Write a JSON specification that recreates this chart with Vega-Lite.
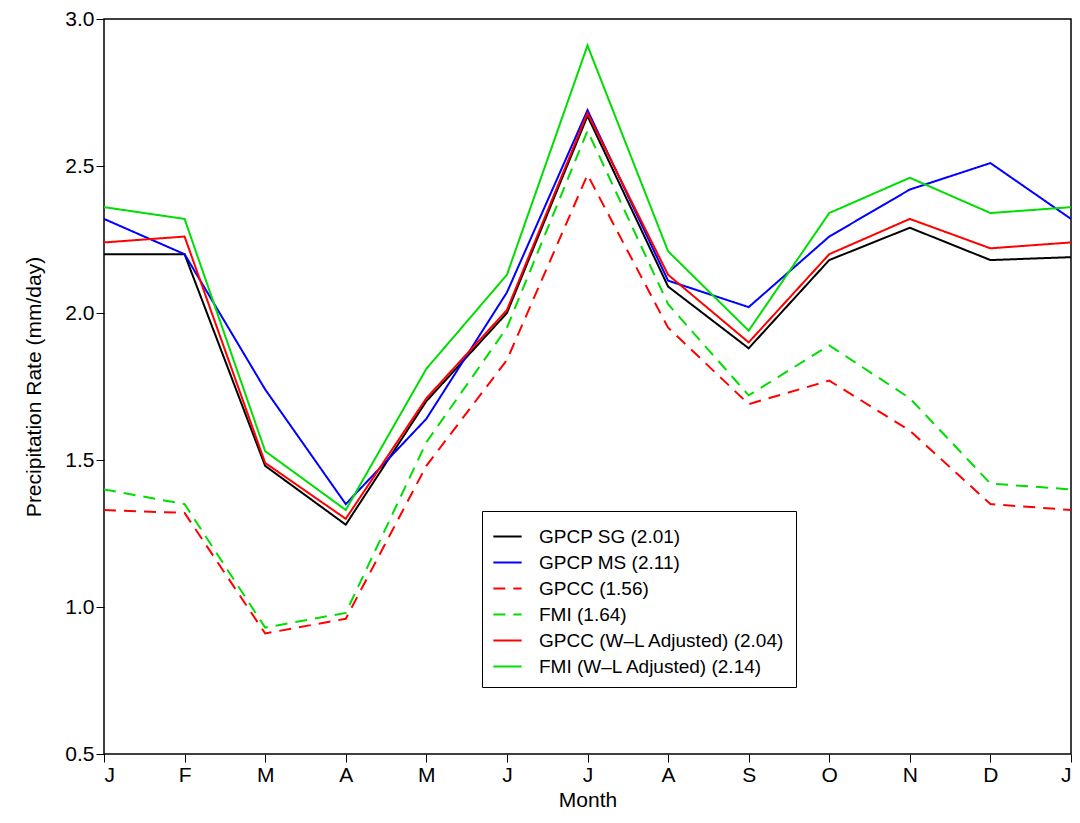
{
"$schema":"https://vega.github.io/schema/vega-lite/v6.json",
"width":967,"height":735,
"padding":{"left":23,"top":8,"right":6,"bottom":5},
"config":{"font":"Liberation Sans","view":{"stroke":"black","strokeWidth":1.5},"axis":{"labelFontSize":21,"titleFontSize":21,"titleFontWeight":"normal","labelColor":"black","titleColor":"black","domain":false,"grid":false,"tickColor":"black","tickSize":8}},
"data":{"values":[
{"s":"GPCP SG (2.01)","m":0,"v":2.20},{"s":"GPCP SG (2.01)","m":1,"v":2.20},{"s":"GPCP SG (2.01)","m":2,"v":1.48},{"s":"GPCP SG (2.01)","m":3,"v":1.28},{"s":"GPCP SG (2.01)","m":4,"v":1.70},{"s":"GPCP SG (2.01)","m":5,"v":2.00},{"s":"GPCP SG (2.01)","m":6,"v":2.67},{"s":"GPCP SG (2.01)","m":7,"v":2.09},{"s":"GPCP SG (2.01)","m":8,"v":1.88},{"s":"GPCP SG (2.01)","m":9,"v":2.18},{"s":"GPCP SG (2.01)","m":10,"v":2.29},{"s":"GPCP SG (2.01)","m":11,"v":2.18},{"s":"GPCP SG (2.01)","m":12,"v":2.19},
{"s":"GPCP MS (2.11)","m":0,"v":2.32},{"s":"GPCP MS (2.11)","m":1,"v":2.20},{"s":"GPCP MS (2.11)","m":2,"v":1.74},{"s":"GPCP MS (2.11)","m":3,"v":1.35},{"s":"GPCP MS (2.11)","m":4,"v":1.64},{"s":"GPCP MS (2.11)","m":5,"v":2.07},{"s":"GPCP MS (2.11)","m":6,"v":2.69},{"s":"GPCP MS (2.11)","m":7,"v":2.11},{"s":"GPCP MS (2.11)","m":8,"v":2.02},{"s":"GPCP MS (2.11)","m":9,"v":2.26},{"s":"GPCP MS (2.11)","m":10,"v":2.42},{"s":"GPCP MS (2.11)","m":11,"v":2.51},{"s":"GPCP MS (2.11)","m":12,"v":2.32},
{"s":"GPCC (1.56)","m":0,"v":1.33},{"s":"GPCC (1.56)","m":1,"v":1.32},{"s":"GPCC (1.56)","m":2,"v":0.91},{"s":"GPCC (1.56)","m":3,"v":0.96},{"s":"GPCC (1.56)","m":4,"v":1.48},{"s":"GPCC (1.56)","m":5,"v":1.84},{"s":"GPCC (1.56)","m":6,"v":2.47},{"s":"GPCC (1.56)","m":7,"v":1.95},{"s":"GPCC (1.56)","m":8,"v":1.69},{"s":"GPCC (1.56)","m":9,"v":1.77},{"s":"GPCC (1.56)","m":10,"v":1.60},{"s":"GPCC (1.56)","m":11,"v":1.35},{"s":"GPCC (1.56)","m":12,"v":1.33},
{"s":"FMI (1.64)","m":0,"v":1.40},{"s":"FMI (1.64)","m":1,"v":1.35},{"s":"FMI (1.64)","m":2,"v":0.93},{"s":"FMI (1.64)","m":3,"v":0.98},{"s":"FMI (1.64)","m":4,"v":1.56},{"s":"FMI (1.64)","m":5,"v":1.95},{"s":"FMI (1.64)","m":6,"v":2.62},{"s":"FMI (1.64)","m":7,"v":2.03},{"s":"FMI (1.64)","m":8,"v":1.72},{"s":"FMI (1.64)","m":9,"v":1.89},{"s":"FMI (1.64)","m":10,"v":1.71},{"s":"FMI (1.64)","m":11,"v":1.42},{"s":"FMI (1.64)","m":12,"v":1.40},
{"s":"GPCC (W–L Adjusted) (2.04)","m":0,"v":2.24},{"s":"GPCC (W–L Adjusted) (2.04)","m":1,"v":2.26},{"s":"GPCC (W–L Adjusted) (2.04)","m":2,"v":1.49},{"s":"GPCC (W–L Adjusted) (2.04)","m":3,"v":1.30},{"s":"GPCC (W–L Adjusted) (2.04)","m":4,"v":1.71},{"s":"GPCC (W–L Adjusted) (2.04)","m":5,"v":2.01},{"s":"GPCC (W–L Adjusted) (2.04)","m":6,"v":2.68},{"s":"GPCC (W–L Adjusted) (2.04)","m":7,"v":2.13},{"s":"GPCC (W–L Adjusted) (2.04)","m":8,"v":1.90},{"s":"GPCC (W–L Adjusted) (2.04)","m":9,"v":2.20},{"s":"GPCC (W–L Adjusted) (2.04)","m":10,"v":2.32},{"s":"GPCC (W–L Adjusted) (2.04)","m":11,"v":2.22},{"s":"GPCC (W–L Adjusted) (2.04)","m":12,"v":2.24},
{"s":"FMI (W–L Adjusted) (2.14)","m":0,"v":2.36},{"s":"FMI (W–L Adjusted) (2.14)","m":1,"v":2.32},{"s":"FMI (W–L Adjusted) (2.14)","m":2,"v":1.53},{"s":"FMI (W–L Adjusted) (2.14)","m":3,"v":1.33},{"s":"FMI (W–L Adjusted) (2.14)","m":4,"v":1.81},{"s":"FMI (W–L Adjusted) (2.14)","m":5,"v":2.13},{"s":"FMI (W–L Adjusted) (2.14)","m":6,"v":2.91},{"s":"FMI (W–L Adjusted) (2.14)","m":7,"v":2.21},{"s":"FMI (W–L Adjusted) (2.14)","m":8,"v":1.94},{"s":"FMI (W–L Adjusted) (2.14)","m":9,"v":2.34},{"s":"FMI (W–L Adjusted) (2.14)","m":10,"v":2.46},{"s":"FMI (W–L Adjusted) (2.14)","m":11,"v":2.34},{"s":"FMI (W–L Adjusted) (2.14)","m":12,"v":2.36}
]},
"mark":{"type":"line","strokeWidth":2,"clip":true},
"encoding":{
"x":{"field":"m","type":"quantitative","title":"Month","scale":{"domain":[0,12],"nice":false},"axis":{"values":[0,1,2,3,4,5,6,7,8,9,10,11,12],"labelExpr":"['J','F','M','A','M','J','J','A','S','O','N','D','J'][datum.value]","titlePadding":4}},
"y":{"field":"v","type":"quantitative","title":"Precipitation Rate (mm/day)","scale":{"domain":[0.5,3.0],"nice":false},"axis":{"values":[0.5,1,1.5,2,2.5,3],"format":".1f","titlePadding":20}},
"color":{"field":"s","type":"nominal","sort":null,"scale":{"domain":["GPCP SG (2.01)","GPCP MS (2.11)","GPCC (1.56)","FMI (1.64)","GPCC (W–L Adjusted) (2.04)","FMI (W–L Adjusted) (2.14)"],"range":["black","#0000ff","#ff0000","#00dd00","#ff0000","#00dd00"]},
"legend":{"orient":"none","legendX":378,"legendY":492,"title":null,"labelFontSize":19,"labelLimit":0,"labelColor":"black","labelOffset":16,"symbolType":"stroke","symbolSize":800,"symbolStrokeWidth":2,"strokeColor":"black","padding":10,"rowPadding":0,"fillColor":"white"}},
"strokeDash":{"field":"s","type":"nominal","sort":null,"scale":{"domain":["GPCP SG (2.01)","GPCP MS (2.11)","GPCC (1.56)","FMI (1.64)","GPCC (W–L Adjusted) (2.04)","FMI (W–L Adjusted) (2.14)"],"range":[[1,0],[1,0],[12,8],[12,8],[1,0],[1,0]]},"legend":null}
}
}
